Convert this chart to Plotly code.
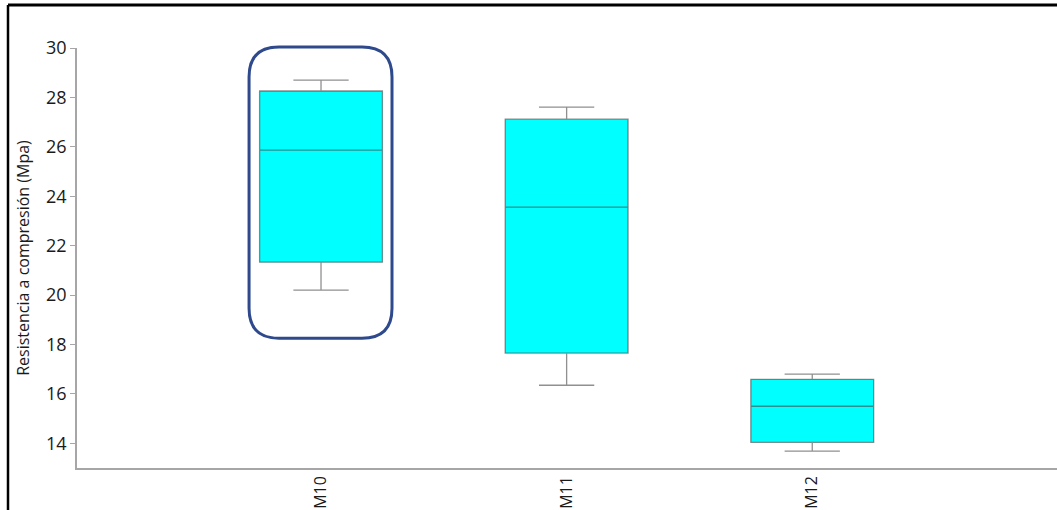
import plotly.graph_objects as go

# Compressive strength summary per mix
mezclas = ["M10", "M11", "M12"]
bigote_inf = [20.20, 16.35, 13.68]
q1 = [21.33, 17.65, 14.04]
mediana = [25.87, 23.56, 15.50]
q3 = [28.26, 27.12, 16.59]
bigote_sup = [28.70, 27.61, 16.80]

W, H = 1057, 510
L, R, T, B = 77, 0, 48, 42
X_RANGE = [-0.9935, 2.9965]
Y_RANGE = [13, 30]

fig = go.Figure()
fig.add_trace(go.Box(
    x=mezclas,
    q1=q1, median=mediana, q3=q3,
    lowerfence=bigote_inf, upperfence=bigote_sup,
    fillcolor="#00FFFF",
    line=dict(color="rgba(70,70,70,0.6)", width=1.3),
    whiskerwidth=0.45,
    width=0.5,
    boxpoints=False,
    showlegend=False,
    hoverinfo="skip",
))

# Convert data coordinates to paper coordinates (so the outline isn't clipped)
def dx(v):
    return (v - X_RANGE[0]) / (X_RANGE[1] - X_RANGE[0])
def dy(v):
    return (v - Y_RANGE[0]) / (Y_RANGE[1] - Y_RANGE[0])

# Rounded highlight around the first mix
x0, x1 = dx(-0.293), dx(0.289)
y0, y1 = dy(18.25), dy(30.04)
pw, ph = W - L - R, H - T - B
rx, ry = 30 / pw, 30 / ph
path = (
    f"M {x0 + rx},{y1} L {x1 - rx},{y1} Q {x1},{y1} {x1},{y1 - ry} "
    f"L {x1},{y0 + ry} Q {x1},{y0} {x1 - rx},{y0} "
    f"L {x0 + rx},{y0} Q {x0},{y0} {x0},{y0 + ry} "
    f"L {x0},{y1 - ry} Q {x0},{y1} {x0 + rx},{y1} Z"
)
fig.add_shape(type="path", path=path, xref="paper", yref="paper",
              line=dict(color="#2E4A8C", width=3), fillcolor="rgba(0,0,0,0)")

# Outer frame (top and left edges)
def px_x(p):
    return (p - L) / pw
def px_y(p):
    return (H - B - p) / ph
fig.add_shape(type="line", xref="paper", yref="paper",
              x0=px_x(8), x1=px_x(W + 5), y0=px_y(5), y1=px_y(5),
              line=dict(color="black", width=3))
fig.add_shape(type="line", xref="paper", yref="paper",
              x0=px_x(8), x1=px_x(8), y0=px_y(5), y1=px_y(H + 5),
              line=dict(color="black", width=2.5))

fig.update_layout(
    width=W, height=H,
    margin=dict(l=L, r=R, t=T, b=B),
    paper_bgcolor="white", plot_bgcolor="white",
    font=dict(family="Open Sans", color="#1a1a1a"),
    xaxis=dict(
        range=X_RANGE, showgrid=False, zeroline=False, automargin=False,
        showline=True, linecolor="#A6A6A6", linewidth=1.5,
        ticks="", tickangle=-90, tickfont=dict(size=16, color="#1a1a1a"),
    ),
    yaxis=dict(
        range=Y_RANGE, showgrid=False, zeroline=False, automargin=False,
        showline=True, linecolor="#A6A6A6", linewidth=1.5,
        ticks="outside", ticklen=5, tickcolor="#A6A6A6",
        tickvals=[14, 16, 18, 20, 22, 24, 26, 28, 30],
        tickfont=dict(size=18, color="#1a1a1a"),
        title=dict(text="Resistencia a compresión (Mpa)",
                   font=dict(size=16, color="#1a1a1a"), standoff=12),
    ),
)

fig.write_html("out.html")
